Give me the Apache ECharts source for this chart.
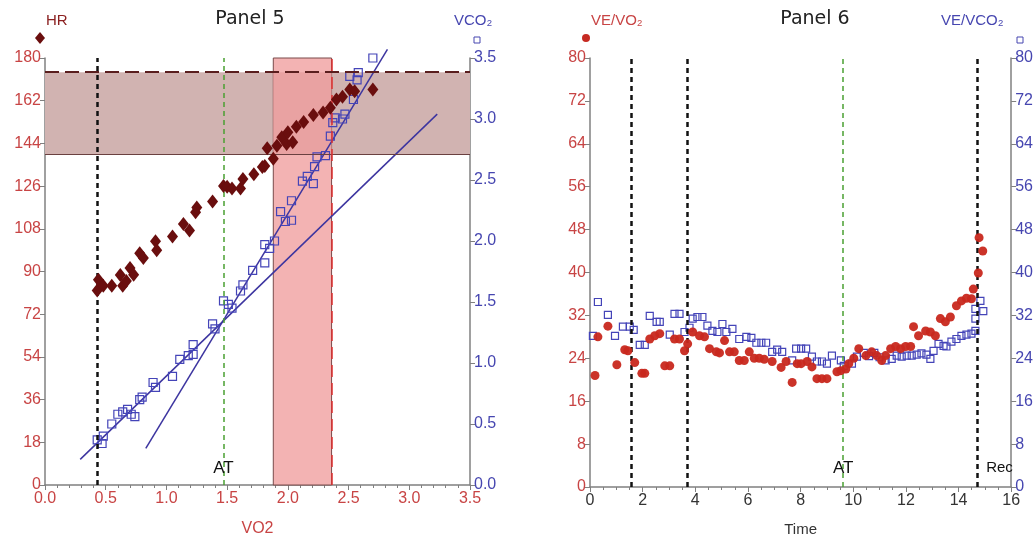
<!DOCTYPE html>
<html>
<head>
<meta charset="utf-8">
<script src="https://cdn.jsdelivr.net/npm/echarts@6/dist/echarts.min.js"></script>
<style>
  html, body { margin: 0; padding: 0; background: #fff; }
  #main { width: 1036px; height: 542px; }
</style>
</head>
<body>
<div id="main"></div>
<script>
// Panel 5: HR and VCO2 against VO2
const hrPoints = [
  [0.43,82],[0.44,86.5],[0.48,84],[0.55,84],[0.62,88.5],[0.64,84],[0.67,86],[0.70,91.5],[0.73,88.6],
  [0.78,97.7],[0.81,95.7],[0.91,102.8],[0.92,99],[1.05,104.8],[1.14,110],[1.19,107.3],[1.24,115],
  [1.25,117],[1.38,119.5],[1.47,126],[1.50,125.7],[1.54,125],[1.61,125],[1.63,129],[1.72,131],
  [1.79,134],[1.81,134.5],[1.83,142],[1.88,137.5],[1.91,143],[1.95,146.6],[1.99,143.7],[2.00,148.7],
  [2.04,144.5],[2.07,151],[2.13,153],[2.21,156],[2.29,157],[2.35,159],[2.40,162.5],[2.45,163.7],
  [2.51,166.7],[2.55,166],[2.70,166.7]
];
const vco2Points = [
  [0.43,0.37],[0.47,0.34],[0.48,0.40],[0.55,0.50],[0.60,0.58],[0.64,0.60],[0.68,0.62],[0.71,0.58],
  [0.74,0.56],[0.78,0.70],[0.80,0.72],[0.89,0.84],[0.91,0.80],[1.05,0.89],[1.11,1.03],[1.18,1.06],
  [1.22,1.15],[1.22,1.07],[1.38,1.32],[1.40,1.28],[1.47,1.51],[1.51,1.48],[1.54,1.45],[1.61,1.59],
  [1.63,1.64],[1.71,1.76],[1.81,1.82],[1.81,1.97],[1.85,1.94],[1.89,2.00],[1.94,2.24],[1.98,2.16],
  [2.03,2.17],[2.03,2.33],[2.12,2.49],[2.16,2.53],[2.21,2.47],[2.22,2.61],[2.24,2.69],[2.31,2.70],
  [2.35,2.86],[2.37,2.97],[2.39,3.01],[2.45,3.00],[2.47,3.04],[2.54,3.16],[2.51,3.35],[2.57,3.32],
  [2.58,3.38],[2.70,3.50]
];
const fitLow = [[0.29,0.21],[3.23,3.04]];
const fitHigh = [[0.83,0.30],[2.82,3.57]];
const hrBand = [139.5, 174];
const vo2Band = [1.88, 2.36];
const p5Lines = [0.43, 1.47];   // black dashed, AT

// Panel 6: ventilatory equivalents against time
const veVo2 = [
  [0.19,20.8],[0.30,28],[0.68,30],[1.02,22.8],[1.32,25.6],[1.44,25.4],[1.70,23.2],[1.97,21.2],[2.08,21.2],
  [2.27,27.6],[2.46,28.2],[2.65,28.6],[2.84,22.6],[3.03,22.6],[3.21,27.6],[3.40,27.6],[3.59,25.4],[3.71,26.7],
  [3.90,28.9],[4.16,28.2],[4.35,28.0],[4.54,25.8],[4.80,25.2],[4.92,25.0],[5.11,27.3],[5.30,25.2],[5.48,25.2],
  [5.67,23.6],[5.86,23.6],[6.05,25.2],[6.24,24.0],[6.43,24.0],[6.62,23.8],[6.92,23.4],[7.26,22.3],[7.45,23.4],
  [7.68,19.5],[7.87,23],[8.02,23],[8.25,23.4],[8.43,22.4],[8.62,20.2],[8.81,20.2],[9.00,20.2],[9.38,21.5],
  [9.53,21.7],[9.72,22],[9.83,23],[10.02,24],[10.21,25.8],[10.48,24.5],[10.70,25.2],[10.89,24.5],[11.08,23.6],
  [11.23,24.5],[11.42,25.8],[11.61,26.2],[11.80,25.8],[11.99,26.2],[12.18,26.2],[12.29,29.9],[12.48,28.2],
  [12.75,29.1],[12.93,28.9],[13.12,28.2],[13.31,31.4],[13.50,30.8],[13.69,31.7],[13.92,33.8],[14.11,34.7],
  [14.30,35.2],[14.49,35.1],[14.56,36.9],[14.75,39.9],[14.78,46.5],[14.92,44]
];
const veVco2 = [
  [0.11,28.2],[0.30,34.5],[0.68,32.1],[0.95,28.2],[1.25,29.9],[1.51,29.9],[1.66,29.3],[1.89,26.5],[2.08,26.5],
  [2.27,31.9],[2.53,30.8],[2.65,30.8],[3.03,28.4],[3.21,32.3],[3.40,32.3],[3.59,28.9],[3.78,29.7],[3.90,31.4],
  [4.08,31.7],[4.27,31.7],[4.46,30.1],[4.65,29.1],[4.84,28.9],[5.03,30.4],[5.18,28.9],[5.41,29.5],[5.67,27.6],
  [5.94,28.0],[6.13,27.8],[6.32,26.9],[6.51,26.9],[6.69,26.9],[6.92,25.2],[7.11,25.6],[7.30,25.2],[7.68,23.6],
  [7.83,25.8],[8.02,25.8],[8.21,25.8],[8.43,24.3],[8.62,23.4],[8.81,23.4],[9.00,23],[9.19,24.5],[9.53,23.6],
  [9.64,22.6],[9.95,23],[10.14,24.3],[10.40,25],[10.60,24.4],[10.80,25],[11.00,24.2],[11.23,23.6],[11.46,23.9],
  [11.65,24.5],[11.84,24.3],[12.03,24.5],[12.22,24.5],[12.41,24.7],[12.59,24.9],[12.78,24.7],[12.93,23.9],
  [13.05,25.4],[13.24,26.7],[13.43,26.3],[13.54,26.2],[13.73,27.1],[13.92,27.6],[14.11,28.2],[14.30,28.4],
  [14.49,28.6],[14.64,29.1],[14.64,31.4],[14.64,33.2],[14.83,34.7],[14.94,32.8]
];
const p6Lines = [1.55, 3.7, 14.7];
const p6AT = 9.62;

const RED = '#c84444';
const BLUE = '#4646b0';
const MAROON = '#6a0e0e';
const AXIS = '#808080';
const FONT = 'Liberation Sans';

function axisBase(color) {
  return {
    axisLine: { show: true, lineStyle: { color: AXIS, width: 1.5 } },
    axisTick: { show: true, length: 5, lineStyle: { color: AXIS } },
    axisLabel: { color: color, fontSize: 16, fontFamily: FONT, margin: 4 },
    splitLine: { show: false }
  };
}

const chart = echarts.init(document.getElementById('main'));

const option = {
  animation: false,
  backgroundColor: '#fff',
  title: [
    { text: 'Panel 5', left: 245, top: 5, textAlign: 'center', textStyle: { fontFamily: 'DejaVu Sans', fontSize: 19, fontWeight: 'normal', color: '#222' } },
    { text: 'Panel 6', left: 810, top: 5, textAlign: 'center', textStyle: { fontFamily: 'DejaVu Sans', fontSize: 19, fontWeight: 'normal', color: '#222' } },
    { text: 'HR', left: 41, top: 8, textStyle: { fontFamily: FONT, fontSize: 15, fontWeight: 'normal', color: '#8b2020' } },
    { text: 'VCO₂', left: 449, top: 8, textStyle: { fontFamily: FONT, fontSize: 15, fontWeight: 'normal', color: BLUE } },
    { text: 'VE/VO₂', left: 586, top: 8, textStyle: { fontFamily: FONT, fontSize: 15, fontWeight: 'normal', color: RED } },
    { text: 'VE/VCO₂', left: 936, top: 8, textStyle: { fontFamily: FONT, fontSize: 15, fontWeight: 'normal', color: BLUE } }
  ],
  graphic: [
    { type: 'polygon', shape: { points: [[40, 32], [45, 38], [40, 44], [35, 38]] }, style: { fill: MAROON } },
    { type: 'rect', shape: { x: 474, y: 37, width: 6, height: 6 }, style: { fill: '#fff', stroke: BLUE, lineWidth: 1 } },
    { type: 'circle', shape: { cx: 586, cy: 38, r: 4 }, style: { fill: '#c62a22' } },
    { type: 'rect', shape: { x: 1017, y: 37, width: 6, height: 6 }, style: { fill: '#fff', stroke: BLUE, lineWidth: 1 } }
  ],
  grid: [
    { left: 45, right: 566, top: 58, bottom: 53 },
    { left: 590, right: 23, top: 58, bottom: 53 }
  ],
  xAxis: [
    Object.assign(axisBase(RED), {
      gridIndex: 0, type: 'value', min: 0, max: 3.5, interval: 0.5,
      minorTick: { show: true, splitNumber: 5, length: 3, lineStyle: { color: AXIS } },
      axisLabel: { color: RED, fontSize: 16, fontFamily: FONT, margin: 6, formatter: v => v.toFixed(1) },
      name: 'VO2', nameLocation: 'middle', nameGap: 36,
      nameTextStyle: { color: RED, fontSize: 16, fontFamily: FONT }
    }),
    Object.assign(axisBase('#333'), {
      gridIndex: 1, type: 'value', min: 0, max: 16, interval: 2,
      minorTick: { show: true, splitNumber: 4, length: 3, lineStyle: { color: AXIS } },
      axisLabel: { color: '#333', fontSize: 16, fontFamily: FONT, margin: 6 },
      name: 'Time', nameLocation: 'middle', nameGap: 35,
      nameTextStyle: { color: '#333', fontSize: 15, fontFamily: FONT }
    })
  ],
  yAxis: [
    Object.assign(axisBase(RED), { gridIndex: 0, type: 'value', min: 0, max: 180, interval: 18, position: 'left' }),
    Object.assign(axisBase(BLUE), {
      gridIndex: 0, type: 'value', min: 0, max: 3.5, interval: 0.5, position: 'right',
      axisLabel: { color: BLUE, fontSize: 16, fontFamily: FONT, margin: 4, formatter: v => v.toFixed(1) }
    }),
    Object.assign(axisBase(RED), { gridIndex: 1, type: 'value', min: 0, max: 80, interval: 8, position: 'left' }),
    Object.assign(axisBase(BLUE), { gridIndex: 1, type: 'value', min: 0, max: 80, interval: 8, position: 'right' })
  ],
  series: [
    // bands and reference lines, panel 5
    {
      type: 'line', xAxisIndex: 0, yAxisIndex: 0, data: [], z: 1, silent: true,
      markArea: {
        silent: true,
        data: [
          [{ xAxis: 0, yAxis: hrBand[0], itemStyle: { color: '#d1b3b1' } }, { xAxis: vo2Band[0], yAxis: hrBand[1] }],
          [{ xAxis: vo2Band[1], yAxis: hrBand[0], itemStyle: { color: '#d1b3b1' } }, { xAxis: 3.5, yAxis: hrBand[1] }],
          [{ xAxis: vo2Band[0], yAxis: 0, itemStyle: { color: '#f3b3b3', borderColor: '#7a4a4a', borderWidth: 1 } },
           { xAxis: vo2Band[1], yAxis: 180 }],
          [{ xAxis: vo2Band[0], yAxis: hrBand[0], itemStyle: { color: '#e9a2a2' } }, { xAxis: vo2Band[1], yAxis: hrBand[1] }]
        ]
      },
      markLine: {
        silent: true, symbol: 'none', label: { show: false },
        data: [
          { yAxis: hrBand[1], lineStyle: { color: '#5a1e1e', type: [14, 6], width: 2 } },
          { yAxis: hrBand[0], lineStyle: { color: '#6a4040', type: 'solid', width: 1 } },
          [{ coord: [vo2Band[1], 0], lineStyle: { color: '#e03030', type: [12, 6], width: 1.5 } }, { coord: [vo2Band[1], 180] }],
          { xAxis: p5Lines[0], lineStyle: { color: '#111', type: [5, 4], width: 2.5 } },
          { xAxis: p5Lines[1], lineStyle: { color: '#4aa032', type: [5, 4], width: 1.5 } }
        ]
      },
      markPoint: {
        silent: true, symbol: 'circle', symbolSize: 0,
        label: { show: true, color: '#111', fontSize: 17, fontFamily: FONT, formatter: 'AT' },
        data: [{ coord: [p5Lines[1], 7] }]
      }
    },
    {
      name: 'VCO2 fit low', type: 'line', xAxisIndex: 0, yAxisIndex: 1, data: fitLow,
      symbol: 'none', clip: false, z: 3, lineStyle: { color: '#3d35a0', width: 1.5 }
    },
    {
      name: 'VCO2 fit high', type: 'line', xAxisIndex: 0, yAxisIndex: 1, data: fitHigh,
      symbol: 'none', clip: false, z: 3, lineStyle: { color: '#3d35a0', width: 1.5 }
    },
    {
      name: 'VCO2', type: 'scatter', xAxisIndex: 0, yAxisIndex: 1, data: vco2Points, z: 4,
      symbol: 'rect', symbolSize: 8,
      itemStyle: { color: 'rgba(255,255,255,0)', borderColor: '#4444b8', borderWidth: 1.2, opacity: 1 }
    },
    {
      name: 'HR', type: 'scatter', xAxisIndex: 0, yAxisIndex: 0, data: hrPoints, z: 5,
      symbol: 'diamond', symbolSize: [11, 14],
      itemStyle: { color: MAROON, opacity: 1 }
    },
    // panel 6
    {
      type: 'line', xAxisIndex: 1, yAxisIndex: 2, data: [], z: 1, silent: true,
      markLine: {
        silent: true, symbol: 'none', label: { show: false },
        data: p6Lines.map(x => ({ xAxis: x, lineStyle: { color: '#111', type: [5, 4], width: 2.5 } }))
          .concat([{ xAxis: p6AT, lineStyle: { color: '#4aa032', type: [5, 4], width: 1.5 } }])
      },
      markPoint: {
        silent: true, symbol: 'circle', symbolSize: 0,
        data: [
          { coord: [p6AT, 3.5], label: { show: true, color: '#111', fontSize: 17, fontFamily: FONT, formatter: 'AT' } },
          { coord: [15.05, 3.5], label: { show: true, color: '#111', fontSize: 15, fontFamily: FONT, formatter: 'Rec', align: 'left' } }
        ]
      }
    },
    {
      name: 'VE/VCO2', type: 'scatter', xAxisIndex: 1, yAxisIndex: 3, data: veVco2, z: 4,
      symbol: 'rect', symbolSize: 7,
      itemStyle: { color: 'rgba(255,255,255,0)', borderColor: '#4444b8', borderWidth: 1.2, opacity: 1 }
    },
    {
      name: 'VE/VO2', type: 'scatter', xAxisIndex: 1, yAxisIndex: 2, data: veVo2, z: 5,
      symbol: 'circle', symbolSize: 9,
      itemStyle: { color: '#c8281e', opacity: 0.95 }
    }
  ]
};

chart.setOption(option);
</script>
</body>
</html>
